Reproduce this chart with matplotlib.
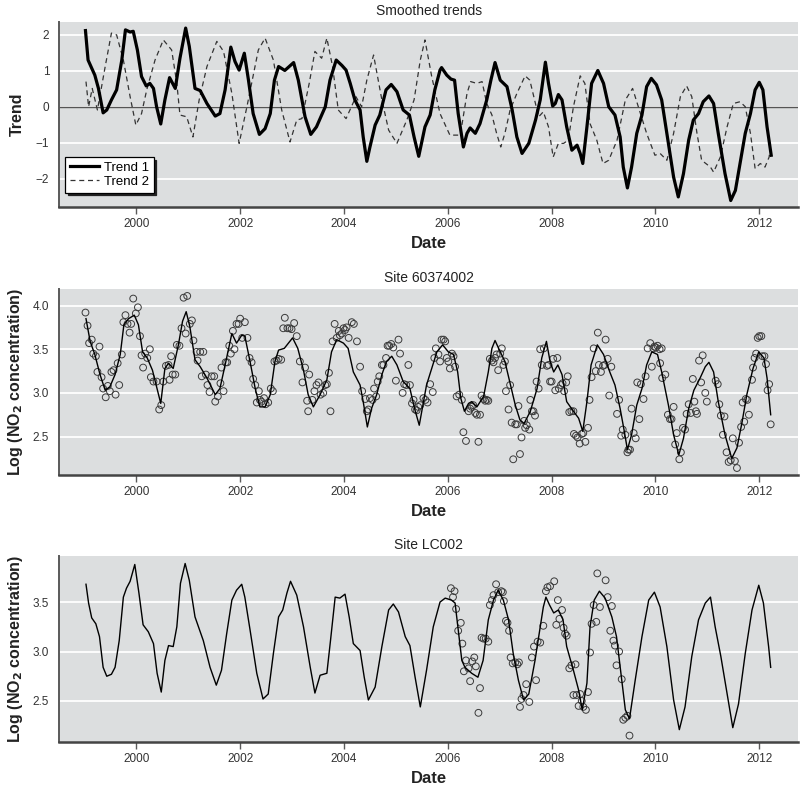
#!/usr/bin/env python3
"""
Smoothed NO2 trends and site-level fits, three stacked panels.
"""

import matplotlib
matplotlib.use("Agg")
import matplotlib.pyplot as plt
from matplotlib import font_manager

# ---- data (decimal years) ----
trend1_t = [1999.02, 1999.07, 1999.14, 1999.20, 1999.27, 1999.36, 1999.43, 1999.52, 1999.62, 1999.72,
            1999.79, 1999.88, 1999.94, 2000.02, 2000.10, 2000.19, 2000.26, 2000.33, 2000.39, 2000.47,
            2000.55, 2000.64, 2000.75, 2000.84, 2000.95, 2001.02, 2001.13, 2001.23, 2001.36, 2001.52,
            2001.61, 2001.71, 2001.82, 2001.90, 2001.98, 2002.08, 2002.16, 2002.25, 2002.37, 2002.48,
            2002.58, 2002.66, 2002.74, 2002.86, 2003.03, 2003.12, 2003.25, 2003.36, 2003.47, 2003.64,
            2003.73, 2003.85, 2003.96, 2004.04, 2004.12, 2004.21, 2004.31, 2004.37, 2004.44, 2004.50,
            2004.60, 2004.69, 2004.81, 2004.91, 2005.02, 2005.14, 2005.26, 2005.35, 2005.44, 2005.56,
            2005.66, 2005.75, 2005.85, 2005.88, 2005.98, 2006.06, 2006.13, 2006.20, 2006.30, 2006.37,
            2006.43, 2006.53, 2006.62, 2006.75, 2006.83, 2006.91, 2007.01, 2007.14, 2007.24, 2007.33,
            2007.43, 2007.56, 2007.69, 2007.78, 2007.88, 2007.94, 2008.02, 2008.07, 2008.13, 2008.20,
            2008.29, 2008.39, 2008.49, 2008.55, 2008.60, 2008.68, 2008.77, 2008.89, 2009.00, 2009.10,
            2009.22, 2009.32, 2009.38, 2009.46, 2009.54, 2009.64, 2009.74, 2009.83, 2009.92, 2010.02,
            2010.12, 2010.22, 2010.35, 2010.44, 2010.54, 2010.64, 2010.73, 2010.83, 2010.92, 2011.03,
            2011.12, 2011.21, 2011.34, 2011.45, 2011.54, 2011.63, 2011.73, 2011.83, 2011.92, 2012.00,
            2012.07, 2012.15, 2012.23]
trend1_v = [2.12, 1.30, 1.07, 0.88, 0.51, -0.17, -0.09, 0.19, 0.47, 1.30,
            2.14, 2.08, 2.10, 1.58, 0.84, 0.58, 0.65, 0.51, 0.00, -0.48,
            0.19, 0.81, 0.51, 1.35, 2.19, 1.68, 0.51, 0.45, 0.09, -0.26,
            -0.19, 0.47, 1.66, 1.26, 1.02, 1.49, 0.74, -0.19, -0.77, -0.61,
            -0.19, 0.74, 1.12, 1.01, 1.23, 0.74, -0.28, -0.77, -0.56, 0.00,
            0.74, 1.30, 1.15, 1.02, 0.65, 0.19, -0.09, -0.84, -1.52, -1.12,
            -0.51, -0.23, 0.47, 0.62, 0.42, -0.09, -0.23, -0.84, -1.38, -0.56,
            -0.23, 0.47, 1.02, 1.09, 0.88, 0.77, 0.74, -0.19, -1.12, -0.74,
            -0.59, -0.74, -0.47, 0.19, 0.74, 1.23, 0.74, 0.56, -0.09, -0.84,
            -1.30, -1.02, -0.37, 0.19, 1.24, 0.65, 0.02, 0.09, 0.34, 0.19,
            -0.56, -1.21, -1.07, -1.30, -1.58, -0.56, 0.65, 1.01, 0.65, 0.00,
            -0.23, -0.84, -1.68, -2.26, -1.68, -0.74, -0.23, 0.56, 0.79, 0.61,
            0.19, -0.74, -1.96, -2.51, -1.86, -0.93, -0.37, -0.19, 0.14, 0.30,
            0.09, -0.74, -1.86, -2.61, -2.33, -1.58, -0.74, -0.19, 0.47, 0.68,
            0.47, -0.56, -1.35]

trend2_t = [1999.03, 1999.08, 1999.15, 1999.25, 1999.40, 1999.52, 1999.62, 1999.75, 1999.88, 1999.99,
            2000.10, 2000.20, 2000.36, 2000.52, 2000.68, 2000.78, 2000.84, 2000.97, 2001.09, 2001.21,
            2001.36, 2001.55, 2001.68, 2001.84, 2001.98, 2002.13, 2002.35, 2002.48, 2002.64, 2002.80,
            2002.96, 2003.09, 2003.19, 2003.33, 2003.44, 2003.57, 2003.67, 2003.78, 2003.89, 2004.04,
            2004.23, 2004.34, 2004.44, 2004.57, 2004.73, 2004.86, 2005.02, 2005.21, 2005.35, 2005.47,
            2005.56, 2005.69, 2005.85, 2006.04, 2006.24, 2006.37, 2006.44, 2006.56, 2006.66, 2006.75,
            2006.85, 2006.94, 2007.02, 2007.10, 2007.20, 2007.33, 2007.49, 2007.58, 2007.75, 2007.84,
            2007.94, 2008.03, 2008.13, 2008.23, 2008.32, 2008.42, 2008.55, 2008.64, 2008.74, 2008.87,
            2008.99, 2009.10, 2009.26, 2009.42, 2009.56, 2009.67, 2009.83, 2009.99, 2010.09, 2010.22,
            2010.35, 2010.48, 2010.60, 2010.70, 2010.80, 2010.89, 2011.06, 2011.12, 2011.25, 2011.38,
            2011.50, 2011.63, 2011.73, 2011.83, 2011.92, 2012.02, 2012.11, 2012.19, 2012.22]
trend2_v = [0.70, 0.00, 0.51, -0.09, 1.12, 2.05, 2.00, 1.30, 0.28, -0.51,
            -0.19, 0.47, 1.30, 1.86, 1.58, 0.65, -0.23, -0.28, -0.84, 0.19,
            1.12, 1.82, 1.54, 0.37, -1.02, 0.00, 1.58, 1.91, 1.30, -0.09,
            -0.98, -0.37, -0.33, 0.65, 1.54, 1.35, 1.91, 1.12, -0.09, -0.33,
            0.28, 0.00, 0.74, 1.44, 0.19, -0.65, -1.02, -0.37, 0.19, 1.30,
            1.86, 0.84, -0.19, -0.79, -0.79, 0.37, 0.70, 0.65, 0.70, 0.09,
            -0.23, -0.74, -1.12, -0.74, -0.09, 0.37, 0.86, 0.74, -0.28, -0.14,
            -0.56, -1.40, -1.02, -1.02, -0.93, 0.00, 0.86, 0.65, -0.47, -0.93,
            -1.58, -1.49, -0.93, 0.19, 0.51, 0.00, -0.74, -1.35, -1.30, -1.49,
            -0.74, 0.28, 0.58, 0.28, -0.74, -1.49, -1.68, -1.82, -1.40, -0.56,
            0.09, 0.14, 0.00, -0.74, -1.72, -1.58, -1.68, -1.40, -1.02]

site1_fit_t = [1999.03, 1999.11, 1999.20, 1999.30, 1999.40, 1999.49, 1999.59, 1999.69, 1999.76, 1999.85,
               1999.96, 2000.04, 2000.12, 2000.21, 2000.31, 2000.39, 2000.47, 2000.55, 2000.62, 2000.71,
               2000.81, 2000.89, 2000.96, 2001.03, 2001.13, 2001.23, 2001.36, 2001.52, 2001.61, 2001.71,
               2001.84, 2001.93, 2002.03, 2002.09, 2002.19, 2002.29, 2002.38, 2002.48, 2002.58, 2002.67,
               2002.74, 2002.85, 2003.01, 2003.11, 2003.22, 2003.31, 2003.41, 2003.54, 2003.67, 2003.76,
               2003.86, 2003.99, 2004.08, 2004.18, 2004.31, 2004.37, 2004.45, 2004.53, 2004.63, 2004.73,
               2004.82, 2004.92, 2005.02, 2005.14, 2005.27, 2005.36, 2005.45, 2005.59, 2005.69, 2005.79,
               2005.90, 2006.01, 2006.11, 2006.19, 2006.25, 2006.32, 2006.40, 2006.46, 2006.56, 2006.69,
               2006.78, 2006.85, 2006.91, 2007.01, 2007.10, 2007.20, 2007.30, 2007.39, 2007.47, 2007.59,
               2007.72, 2007.81, 2007.90, 2007.97, 2008.04, 2008.12, 2008.20, 2008.29, 2008.42, 2008.52,
               2008.60, 2008.68, 2008.76, 2008.88, 2009.00, 2009.12, 2009.22, 2009.32, 2009.40, 2009.46,
               2009.54, 2009.64, 2009.74, 2009.83, 2009.93, 2010.04, 2010.12, 2010.25, 2010.35, 2010.45,
               2010.54, 2010.64, 2010.74, 2010.86, 2010.96, 2011.03, 2011.12, 2011.21, 2011.34, 2011.47,
               2011.57, 2011.67, 2011.76, 2011.88, 2011.99, 2012.09, 2012.15, 2012.22]
site1_fit_v = [3.85, 3.59, 3.44, 3.21, 3.03, 3.07, 3.21, 3.44, 3.78, 3.85,
               3.89, 3.78, 3.47, 3.40, 3.26, 3.07, 2.88, 3.28, 3.34, 3.28,
               3.55, 3.82, 3.93, 3.76, 3.38, 3.30, 3.17, 2.98, 3.05, 3.32,
               3.68, 3.57, 3.66, 3.65, 3.36, 3.05, 2.84, 2.84, 2.98, 3.36,
               3.49, 3.51, 3.63, 3.51, 3.26, 2.98, 2.84, 2.98, 3.15, 3.47,
               3.61, 3.57, 3.51, 3.24, 3.09, 2.90, 2.61, 2.82, 2.98, 3.21,
               3.36, 3.42, 3.32, 3.13, 3.05, 2.82, 2.63, 3.09, 3.28, 3.47,
               3.55, 3.47, 3.44, 3.24, 2.94, 2.79, 2.88, 2.90, 2.84, 2.96,
               3.24, 3.51, 3.60, 3.47, 3.36, 3.11, 2.86, 2.69, 2.65, 2.79,
               3.05, 3.40, 3.59, 3.36, 3.24, 3.32, 3.21, 2.90, 2.79, 2.71,
               2.56, 2.90, 3.32, 3.55, 3.44, 3.24, 3.09, 2.82, 2.56, 2.35,
               2.52, 2.86, 3.05, 3.32, 3.47, 3.44, 3.24, 2.86, 2.52, 2.29,
               2.48, 2.82, 3.03, 3.17, 3.30, 3.35, 3.24, 2.90, 2.52, 2.25,
               2.37, 2.67, 2.98, 3.28, 3.47, 3.40, 3.17, 2.75]

site1_obs_t = [1999.02, 1999.06, 1999.09, 1999.14, 1999.17, 1999.22, 1999.29, 1999.25, 1999.33, 1999.36,
               1999.41, 1999.45, 1999.49, 1999.52, 1999.56, 1999.60, 1999.64, 1999.67, 1999.72, 1999.75,
               1999.79, 1999.83, 1999.87, 1999.90, 1999.94, 1999.99, 2000.03, 2000.07, 2000.10, 2000.13,
               2000.17, 2000.21, 2000.26, 2000.28, 2000.33, 2000.39, 2000.44, 2000.48, 2000.52, 2000.57,
               2000.62, 2000.64, 2000.67, 2000.70, 2000.75, 2000.78, 2000.83, 2000.87, 2000.91, 2000.98,
               2000.95, 2001.03, 2001.07, 2001.10, 2001.16, 2001.23, 2001.29, 2001.18, 2001.26, 2001.34,
               2001.37, 2001.41, 2001.45, 2001.50, 2001.52, 2001.57, 2001.62, 2001.64, 2001.68, 2001.72,
               2001.75, 2001.79, 2001.82, 2001.86, 2001.89, 2001.93, 2001.97, 2002.00, 2002.04, 2002.09,
               2002.14, 2002.18, 2002.22, 2002.25, 2002.29, 2002.32, 2002.36, 2002.38, 2002.41, 2002.46,
               2002.49, 2002.54, 2002.59, 2002.63, 2002.66, 2002.70, 2002.74, 2002.79, 2002.83, 2002.86,
               2002.91, 2002.95, 2002.99, 2003.04, 2003.09, 2003.15, 2003.20, 2003.25, 2003.29, 2003.31,
               2003.33, 2003.39, 2003.43, 2003.47, 2003.51, 2003.55, 2003.60, 2003.64, 2003.67, 2003.71,
               2003.74, 2003.78, 2003.82, 2003.86, 2003.90, 2003.92, 2003.96, 2003.99, 2004.02, 2004.05,
               2004.09, 2004.15, 2004.19, 2004.25, 2004.31, 2004.35, 2004.41, 2004.44, 2004.47, 2004.50,
               2004.55, 2004.58, 2004.62, 2004.65, 2004.68, 2004.73, 2004.76, 2004.81, 2004.84, 2004.87,
               2004.91, 2004.95, 2005.00, 2005.05, 2005.08, 2005.13, 2005.16, 2005.20, 2005.24, 2005.27,
               2005.31, 2005.34, 2005.37, 2005.40, 2005.43, 2005.47, 2005.53, 2005.57, 2005.61, 2005.66,
               2005.71, 2005.74, 2005.77, 2005.82, 2005.85, 2005.88, 2005.92, 2005.95, 2005.98, 2006.01,
               2006.04, 2006.08, 2006.11, 2006.14, 2006.17, 2006.22, 2006.27, 2006.30, 2006.35, 2006.40,
               2006.43, 2006.46, 2006.49, 2006.53, 2006.56, 2006.59, 2006.62, 2006.65, 2006.69, 2006.72,
               2006.75, 2006.78, 2006.81, 2006.85, 2006.88, 2006.91, 2006.94, 2006.97, 2007.01, 2007.04,
               2007.07, 2007.10, 2007.12, 2007.17, 2007.20, 2007.23, 2007.26, 2007.30, 2007.33, 2007.36,
               2007.39, 2007.42, 2007.47, 2007.49, 2007.52, 2007.57, 2007.59, 2007.62, 2007.65, 2007.68,
               2007.71, 2007.75, 2007.78, 2007.81, 2007.85, 2007.91, 2007.94, 2007.97, 2008.00, 2008.03,
               2008.07, 2008.11, 2008.14, 2008.18, 2008.21, 2008.24, 2008.28, 2008.31, 2008.34, 2008.38,
               2008.42, 2008.43, 2008.47, 2008.50, 2008.54, 2008.58, 2008.61, 2008.65, 2008.70, 2008.73,
               2008.77, 2008.81, 2008.85, 2008.89, 2008.91, 2008.95, 2008.99, 2009.02, 2009.04, 2009.08,
               2009.11, 2009.15, 2009.26, 2009.30, 2009.34, 2009.37, 2009.42, 2009.46, 2009.48, 2009.51,
               2009.54, 2009.58, 2009.62, 2009.65, 2009.69, 2009.72, 2009.77, 2009.81, 2009.85, 2009.90,
               2009.93, 2009.96, 2009.98, 2010.01, 2010.04, 2010.08, 2010.12, 2010.09, 2010.13, 2010.19,
               2010.24, 2010.28, 2010.31, 2010.35, 2010.38, 2010.41, 2010.46, 2010.49, 2010.53, 2010.57,
               2010.60, 2010.64, 2010.68, 2010.72, 2010.75, 2010.78, 2010.80, 2010.84, 2010.88, 2010.91,
               2010.96, 2010.99, 2011.16, 2011.20, 2011.23, 2011.26, 2011.30, 2011.33, 2011.37, 2011.41,
               2011.45, 2011.49, 2011.53, 2011.57, 2011.61, 2011.65, 2011.68, 2011.71, 2011.74, 2011.77,
               2011.80, 2011.86, 2011.88, 2011.91, 2011.94, 2011.97, 2012.00, 2012.04, 2012.06, 2012.10,
               2012.13, 2012.16, 2012.19, 2012.22]
site1_obs_v = [3.92, 3.77, 3.57, 3.61, 3.45, 3.42, 3.53, 3.24, 3.18, 3.05,
               2.95, 3.08, 3.02, 3.24, 3.26, 2.98, 3.34, 3.09, 3.44, 3.81,
               3.89, 3.79, 3.69, 3.79, 4.08, 3.91, 3.98, 3.65, 3.43, 3.29,
               3.45, 3.40, 3.50, 3.18, 3.13, 3.13, 2.81, 2.86, 3.13, 3.31,
               3.32, 3.15, 3.42, 3.21, 3.21, 3.55, 3.54, 3.74, 4.09, 4.11,
               3.68, 3.79, 3.83, 3.60, 3.47, 3.47, 3.47, 3.37, 3.19, 3.21,
               3.09, 3.01, 3.19, 3.19, 2.90, 2.96, 3.11, 3.29, 3.02, 3.35,
               3.35, 3.54, 3.45, 3.71, 3.50, 3.79, 3.79, 3.85, 3.63, 3.81,
               3.63, 3.40, 3.35, 3.16, 3.09, 2.89, 3.02, 2.92, 2.90, 2.94,
               2.87, 2.89, 3.05, 3.02, 3.36, 3.37, 3.39, 3.38, 3.74, 3.86,
               3.74, 3.74, 3.73, 3.80, 3.65, 3.36, 3.12, 3.29, 2.91, 2.79,
               3.21, 2.92, 3.02, 3.09, 3.12, 2.98, 3.00, 3.09, 3.10, 3.23,
               2.79, 3.59, 3.79, 3.63, 3.71, 3.66, 3.68, 3.74, 3.72, 3.75,
               3.63, 3.81, 3.79, 3.59, 3.30, 3.02, 2.93, 2.79, 2.81, 2.94,
               2.92, 3.05, 2.96, 3.13, 3.19, 3.32, 3.32, 3.40, 3.54, 3.54,
               3.56, 3.52, 3.14, 3.61, 3.45, 3.00, 3.10, 3.09, 3.32, 3.09,
               2.88, 2.92, 2.81, 2.80, 2.84, 2.86, 2.94, 2.92, 2.89, 3.10,
               3.01, 3.40, 3.51, 3.44, 3.36, 3.61, 3.61, 3.59, 3.40, 3.36,
               3.28, 3.45, 3.42, 3.30, 2.96, 2.98, 2.92, 2.55, 2.45, 2.79,
               2.82, 2.84, 2.86, 2.77, 2.75, 2.44, 2.75, 2.97, 2.93, 2.91,
               2.92, 2.91, 3.39, 3.37, 3.35, 3.40, 3.44, 3.26, 3.45, 3.51,
               3.32, 3.36, 3.02, 2.81, 3.09, 2.66, 2.24, 2.64, 2.64, 2.85,
               2.30, 2.49, 2.68, 2.60, 2.63, 2.58, 2.92, 2.79, 2.79, 2.74,
               3.13, 3.05, 3.50, 3.32, 3.51, 3.31, 3.32, 3.13, 3.13, 3.39,
               3.03, 3.40, 3.05, 3.09, 3.11, 3.02, 3.12, 3.19, 2.78, 2.79,
               2.79, 2.53, 2.51, 2.49, 2.42, 2.53, 2.54, 2.44, 2.60, 2.92,
               3.18, 3.51, 3.25, 3.69, 3.32, 3.24, 3.31, 3.32, 3.61, 3.39,
               2.97, 3.30, 2.76, 2.92, 2.51, 2.58, 2.52, 2.32, 2.35, 2.35,
               2.82, 2.54, 2.48, 3.12, 2.70, 3.10, 2.93, 3.19, 3.51, 3.57,
               3.30, 3.51, 3.53, 3.52, 3.54, 3.50, 3.51, 3.34, 3.17, 3.21,
               2.75, 2.70, 2.70, 2.84, 2.41, 2.54, 2.24, 2.32, 2.60, 2.58,
               2.76, 2.87, 2.77, 3.16, 2.90, 2.79, 2.76, 3.37, 3.12, 3.43,
               3.00, 2.90, 3.14, 3.10, 2.87, 2.74, 2.52, 2.73, 2.32, 2.21,
               2.23, 2.48, 2.22, 2.14, 2.43, 2.61, 2.89, 2.67, 2.93, 2.92,
               2.75, 3.15, 3.29, 3.40, 3.45, 3.63, 3.65, 3.65, 3.42, 3.42,
               3.33, 3.03, 3.10, 2.64]

site2_fit_t = [1999.03, 1999.08, 1999.14, 1999.22, 1999.29, 1999.36, 1999.43, 1999.52, 1999.59, 1999.67,
               1999.75, 1999.81, 1999.88, 1999.97, 2000.05, 2000.13, 2000.23, 2000.33, 2000.40, 2000.48,
               2000.55, 2000.62, 2000.71, 2000.78, 2000.85, 2000.94, 2001.02, 2001.13, 2001.29, 2001.42,
               2001.54, 2001.64, 2001.74, 2001.84, 2001.93, 2002.03, 2002.09, 2002.19, 2002.32, 2002.44,
               2002.54, 2002.64, 2002.74, 2002.82, 2002.90, 2002.97, 2003.09, 2003.22, 2003.35, 2003.44,
               2003.54, 2003.67, 2003.74, 2003.83, 2003.92, 2004.02, 2004.10, 2004.18, 2004.31, 2004.39,
               2004.47, 2004.60, 2004.73, 2004.86, 2004.95, 2005.05, 2005.18, 2005.27, 2005.37, 2005.47,
               2005.59, 2005.72, 2005.85, 2005.95, 2006.07, 2006.14, 2006.20, 2006.27, 2006.33, 2006.46,
               2006.58, 2006.68, 2006.78, 2006.88, 2006.97, 2007.07, 2007.17, 2007.26, 2007.36, 2007.46,
               2007.56, 2007.68, 2007.78, 2007.84, 2007.89, 2007.96, 2008.04, 2008.13, 2008.22, 2008.29,
               2008.42, 2008.52, 2008.59, 2008.68, 2008.74, 2008.82, 2008.92, 2009.03, 2009.16, 2009.25,
               2009.35, 2009.42, 2009.50, 2009.61, 2009.74, 2009.87, 2009.98, 2010.09, 2010.22, 2010.35,
               2010.46, 2010.57, 2010.70, 2010.83, 2010.96, 2011.06, 2011.15, 2011.26, 2011.39, 2011.49,
               2011.60, 2011.73, 2011.86, 2011.99, 2012.08, 2012.18, 2012.22]
site2_fit_v = [3.68, 3.49, 3.34, 3.28, 3.15, 2.84, 2.75, 2.77, 2.84, 3.11,
               3.55, 3.64, 3.71, 3.88, 3.59, 3.27, 3.20, 3.08, 2.78, 2.59,
               2.91, 3.06, 3.05, 3.25, 3.69, 3.89, 3.72, 3.35, 3.11, 2.84,
               2.66, 2.81, 3.18, 3.52, 3.62, 3.68, 3.55, 3.22, 2.78, 2.52,
               2.57, 2.98, 3.35, 3.42, 3.59, 3.71, 3.57, 3.25, 2.84, 2.58,
               2.76, 2.78, 3.11, 3.55, 3.54, 3.58, 3.35, 3.08, 3.01, 2.74,
               2.51, 2.64, 3.05, 3.42, 3.48, 3.40, 3.15, 3.06, 2.74, 2.44,
               2.81, 3.25, 3.50, 3.54, 3.52, 3.49, 3.22, 2.91, 2.84, 2.78,
               2.74, 2.91, 3.32, 3.52, 3.62, 3.52, 3.32, 2.98, 2.71, 2.51,
               2.57, 2.91, 3.25, 3.45, 3.55, 3.47, 3.39, 3.42, 3.32, 3.05,
               2.81, 2.61, 2.41, 2.68, 3.25, 3.52, 3.61, 3.54, 3.35, 3.15,
               2.71, 2.41, 2.32, 2.71, 3.15, 3.52, 3.60, 3.45, 3.05, 2.51,
               2.21, 2.44, 2.95, 3.32, 3.49, 3.55, 3.25, 2.95, 2.54, 2.23,
               2.47, 2.98, 3.42, 3.67, 3.49, 3.05, 2.84]

site2_obs_t = [2006.06, 2006.10, 2006.13, 2006.16, 2006.20, 2006.25, 2006.28, 2006.31, 2006.35, 2006.40,
               2006.43, 2006.47, 2006.51, 2006.54, 2006.59, 2006.62, 2006.65, 2006.69, 2006.73, 2006.78,
               2006.81, 2006.85, 2006.88, 2006.93, 2006.97, 2007.03, 2007.06, 2007.08, 2007.12, 2007.15,
               2007.18, 2007.21, 2007.25, 2007.30, 2007.34, 2007.37, 2007.39, 2007.42, 2007.46, 2007.51,
               2007.57, 2007.62, 2007.66, 2007.70, 2007.73, 2007.78, 2007.84, 2007.89, 2007.92, 2007.97,
               2008.05, 2008.09, 2008.12, 2008.15, 2008.20, 2008.23, 2008.26, 2008.29, 2008.34, 2008.38,
               2008.42, 2008.46, 2008.48, 2008.52, 2008.55, 2008.58, 2008.61, 2008.66, 2008.70, 2008.74,
               2008.77, 2008.81, 2008.86, 2008.88, 2008.93, 2009.04, 2009.08, 2009.13, 2009.16, 2009.19,
               2009.22, 2009.25, 2009.30, 2009.35, 2009.38, 2009.42, 2009.46, 2009.50]
site2_obs_v = [3.64, 3.55, 3.61, 3.43, 3.21, 3.29, 3.08, 2.80, 2.91, 2.83,
               2.70, 2.90, 2.94, 2.85, 2.38, 2.63, 3.14, 3.13, 3.13, 3.10,
               3.47, 3.52, 3.57, 3.68, 3.60, 3.61, 3.60, 3.51, 3.31, 3.29,
               3.21, 2.94, 2.88, 2.89, 2.87, 2.89, 2.44, 2.52, 2.56, 2.67,
               2.49, 2.94, 3.05, 2.71, 3.10, 3.09, 3.26, 3.61, 3.65, 3.66,
               3.71, 3.27, 3.52, 3.33, 3.42, 3.24, 3.18, 3.16, 2.83, 2.86,
               2.56, 2.87, 2.56, 2.45, 2.57, 2.50, 2.44, 2.41, 2.59, 2.99,
               3.28, 3.47, 3.30, 3.79, 3.45, 3.72, 3.55, 3.21, 3.46, 3.11,
               3.06, 2.86, 3.00, 2.72, 2.31, 2.33, 2.35, 2.15]

years = [2000, 2002, 2004, 2006, 2008, 2010, 2012]
titles = ["Smoothed trends", "Site 60374002", "Site LC002"]
trend_ticks = [-2, -1, 0, 1, 2]
trend_tick_labels = ["\u22122", "\u22121", "0", "1", "2"]
site1_ticks = [2.5, 3.0, 3.5, 4.0]
site2_ticks = [2.5, 3.0, 3.5]

# ---- fonts ----
available = {f.name for f in font_manager.fontManager.ttflist}
NARROW = "Liberation Sans Narrow" if "Liberation Sans Narrow" in available else "Liberation Sans"
REGULAR = "Liberation Sans"

BG = "#dcdedf"
INK = "#222222"
AXIS_GRAY = "#5a5a5a"


def style_axis(ax, title, ylabel, yticks, yticklabels, ylim):
    """Gray panel, white horizontal grid, only left/bottom spines."""
    ax.set_facecolor(BG)
    ax.set_axisbelow(True)
    ax.yaxis.grid(True, color="white", lw=1.3)
    ax.xaxis.grid(False)
    for side in ("top", "right"):
        ax.spines[side].set_visible(False)
    ax.spines["left"].set_color(AXIS_GRAY)
    ax.spines["left"].set_linewidth(1.4)
    ax.spines["bottom"].set_color("#444444")
    ax.spines["bottom"].set_linewidth(1.8)

    ax.set_xlim(1998.51, 2012.75)
    ax.set_ylim(*ylim)
    ax.set_xticks(years)
    ax.set_xticklabels([str(y) for y in years], family=REGULAR, fontsize=8.5, color="#333333")
    ax.set_yticks(yticks)
    ax.set_yticklabels(yticklabels, family=REGULAR, fontsize=8.5, color="#333333")
    ax.tick_params(axis="x", length=5, width=1, color=AXIS_GRAY, pad=3)
    ax.tick_params(axis="y", length=0, pad=7)

    ax.set_title(title, family=NARROW, fontsize=10, color=INK, pad=5)
    ax.set_xlabel("Date", family=NARROW, fontsize=12, fontweight="bold", color=INK, labelpad=4)
    ax.set_ylabel(ylabel, family=NARROW, fontsize=11.5, fontweight="bold", color=INK)


fig = plt.figure(figsize=(8.0, 7.93), dpi=100)
ax1 = fig.add_axes([0.07375, 0.739, 0.924, 0.2333])
ax2 = fig.add_axes([0.07375, 0.401, 0.924, 0.2346])
ax3 = fig.add_axes([0.07375, 0.0643, 0.924, 0.2346])

no2_label = r"Log (NO$_\mathbf{2}$ concentration)"

# Panel 1: smoothed trends
style_axis(ax1, titles[0], "Trend", trend_ticks, trend_tick_labels, (-2.79, 2.36))
ax1.axhline(0, color="#555555", lw=1.0, zorder=1.5)
ax1.plot(trend2_t, trend2_v, color="#333333", lw=0.9, dashes=(4, 3), label="Trend 2", zorder=3)
ax1.plot(trend1_t, trend1_v, color="black", lw=2.3, label="Trend 1", zorder=4,
         solid_joinstyle="round")
handles, labels = ax1.get_legend_handles_labels()
leg = ax1.legend(handles[::-1], labels[::-1], loc="lower left", bbox_to_anchor=(0.008, 0.078),
                 borderaxespad=0, frameon=True, fancybox=False,
                 shadow={"color": "#222222", "alpha": 1.0},
                 prop={"family": NARROW, "size": 9.5}, handlelength=2.2, handletextpad=0.4,
                 labelspacing=0.15, borderpad=0.35)
leg.get_frame().set_edgecolor("black")
leg.get_frame().set_linewidth(0.9)
leg.get_frame().set_facecolor("white")
leg.set_zorder(10)

# Panel 2: site 60374002
style_axis(ax2, titles[1], no2_label, site1_ticks, [f"{v:.1f}" for v in site1_ticks], (2.06, 4.19))
ax2.scatter(site1_obs_t, site1_obs_v, s=24, facecolors="none", edgecolors="#3a3a3a",
            linewidths=0.7, zorder=3)
ax2.plot(site1_fit_t, site1_fit_v, color="black", lw=1.0, zorder=4)

# Panel 3: site LC002
style_axis(ax3, titles[2], no2_label, site2_ticks, [f"{v:.1f}" for v in site2_ticks], (2.085, 3.966))
ax3.scatter(site2_obs_t, site2_obs_v, s=24, facecolors="none", edgecolors="#3a3a3a",
            linewidths=0.7, zorder=3)
ax3.plot(site2_fit_t, site2_fit_v, color="black", lw=1.0, zorder=4)

for ax in (ax1, ax2, ax3):
    ax.yaxis.set_label_coords(-0.046, 0.5)

fig.savefig("out.png", dpi=100, facecolor="white")
plt.close(fig)
